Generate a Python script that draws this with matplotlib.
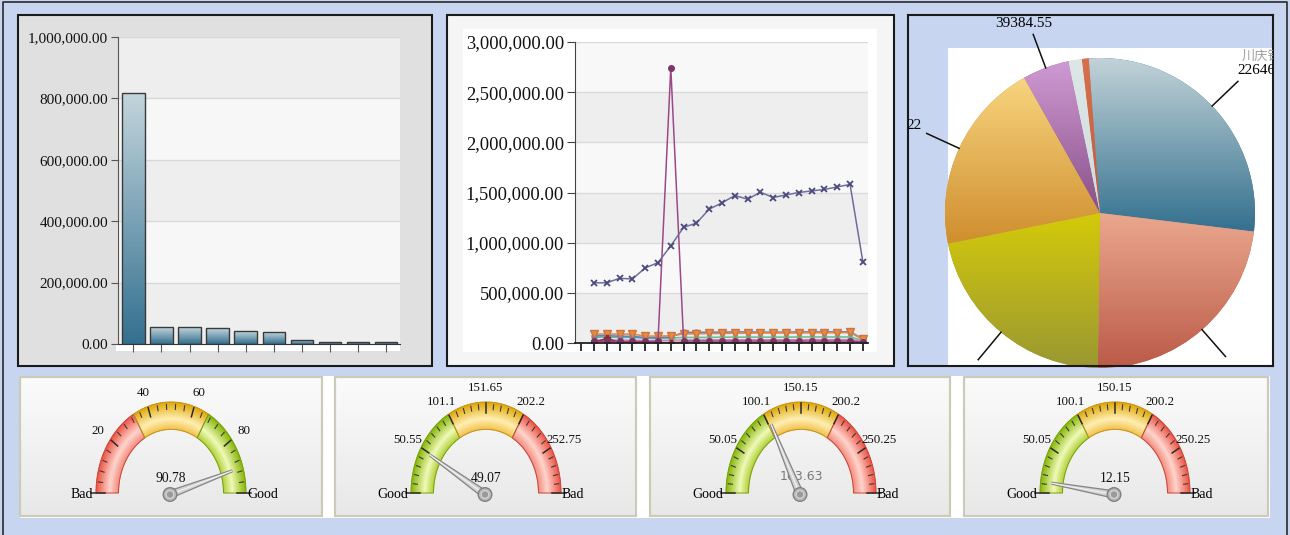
import numpy as np
import matplotlib
matplotlib.use('Agg')
import matplotlib.pyplot as plt
from matplotlib.patches import Rectangle, Polygon, Circle
from matplotlib.colors import to_rgb
from matplotlib.ticker import FuncFormatter

W, H = 1290, 535
SERIF = ['Liberation Serif', 'DejaVu Serif']
plt.rcParams['font.family'] = SERIF

# ---------------- data ----------------
bar_values = [817000, 55000, 55000, 52000, 41000, 38000, 14000, 6000, 6000, 6000]
bar_yticks = [0, 200000, 400000, 600000, 800000, 1000000]

line_x = list(range(22))
line_main = [600000, 600000, 645000, 638000, 748000, 801000, 968000, 1154000, 1194000, 1334000, 1397000,
             1470000, 1433000, 1503000, 1450000, 1476000, 1500000, 1516000, 1530000, 1556000, 1580000, 808000]
line_spike = [15000, 15000, 15000, 15000, 15000, 15000, 2745000, 20000, 20000, 20000, 20000,
              20000, 20000, 20000, 20000, 20000, 20000, 20000, 20000, 20000, 20000, 10000]
line_orange = [88000, 90000, 88000, 88000, 70000, 68000, 72000, 90000, 92000, 95000, 95000,
               98000, 98000, 100000, 100000, 100000, 100000, 102000, 102000, 102000, 105000, 35000]
line_blue = [70000, 72000, 68000, 65000, 55000, 52000, 60000, 105000, 105000, 108000, 108000,
             110000, 110000, 108000, 108000, 108000, 110000, 110000, 110000, 110000, 112000, 40000]
line_teal = [55000, 58000, 55000, 55000, 48000, 45000, 50000, 55000, 55000, 55000, 58000,
             58000, 58000, 58000, 58000, 58000, 60000, 60000, 60000, 60000, 60000, 25000]
line_pink = [30000, 30000, 28000, 28000, 25000, 25000, 28000, 30000, 30000, 32000, 32000,
             32000, 33000, 33000, 33000, 33000, 33000, 34000, 34000, 34000, 35000, 15000]
line_darkred = [5000, 45000, 5000, 5000, 4000, 4000, 4000, 5000, 5000, 5000, 5000,
                5000, 5000, 5000, 5000, 5000, 5000, 5000, 5000, 5000, 5000, 3000]
line_yticks = [0, 500000, 1000000, 1500000, 2000000, 2500000, 3000000]

pie_values = [226468, 188000, 174400, 161500, 39384.55, 11250, 5600]
pie_labels = ['22646', '', '', '22', '39384.55', '', '']
pie_category_hint = '川庆钻'

gauge_values = [90.78, 49.07, 103.63, 12.15]
gauge_max = [100, 303.3, 300.3, 300.3]
gauge_tick_values = [[20, 40, 60, 80],
                     [50.55, 101.1, 151.65, 202.2, 252.75],
                     [50.05, 100.1, 150.15, 200.2, 250.25],
                     [50.05, 100.1, 150.15, 200.2, 250.25]]
gauge_tick_labels = [['20', '40', '60', '80'],
                     ['50.55', '101.1', '151.65', '202.2', '252.75'],
                     ['50.05', '100.1', '150.15', '200.2', '250.25'],
                     ['50.05', '100.1', '150.15', '200.2', '250.25']]
gauge_value_labels = ['90.78', '49.07', '103.63', '12.15']
gauge_left = ['Bad', 'Good', 'Good', 'Good']
gauge_right = ['Good', 'Bad', 'Bad', 'Bad']

# ---------------- helpers ----------------
fig = plt.figure(figsize=(W / 100, H / 100), dpi=100)
fig.patch.set_facecolor('#c7d5f0')


def ax_at(x0, y0, x1, y1):
    return fig.add_axes([x0 / W, 1 - y1 / H, (x1 - x0) / W, (y1 - y0) / H])


def grad_img(c_top, c_bot, n=128):
    t = np.linspace(0, 1, n)[:, None, None]
    a = np.array(to_rgb(c_top))[None, None, :]
    b = np.array(to_rgb(c_bot))[None, None, :]
    return a * (1 - t) + b * t


def mix(c1, c2, t):
    a, b = np.array(to_rgb(c1)), np.array(to_rgb(c2))
    return tuple(a * (1 - t) + b * t)


bg = ax_at(0, 0, W, H)
bg.set_zorder(-10)
bg.axis('off')


def rect(ax, x0, y0, x1, y1, fc='none', ec='none', lw=0, z=1):
    ax.add_patch(Rectangle((x0, y0), x1 - x0, y1 - y0, facecolor=fc, edgecolor=ec, linewidth=lw, zorder=z))


# page frame
bg.plot([3, 3, 1287, 1287], [535, 2, 2, 535], color='#2a2a2a', lw=1.2, zorder=1)

# panel 1
rect(bg, 18, 15, 432, 366, fc='#e1e0e1', ec='#1a1a1a', lw=1.5)
rect(bg, 116, 344, 400, 351, fc='white', z=2)
# panel 2
rect(bg, 447, 15, 894, 366, fc='#f5f5f5', ec='#1a1a1a', lw=1.5)
rect(bg, 463, 29, 877, 352, fc='white', z=2)
# gauge strip
rect(bg, 20, 376, 1270, 518, fc='white')

# ---------------- bar chart ----------------
ax1 = ax_at(118, 37, 400, 344)
ax1.set_facecolor('#eeeeee')
for lo, hi in [(200000, 400000), (600000, 800000)]:
    ax1.axhspan(lo, hi, color='#f7f7f7', zorder=0.2, lw=0)
for t in bar_yticks[1:]:
    ax1.axhline(t, color='#d9d9d9', lw=1, zorder=0.4)
bars = ax1.bar(range(len(bar_values)), bar_values, width=0.8, color='none',
               edgecolor='#3a3a3a', linewidth=1, zorder=3)
for b in bars:
    x0, w, h = b.get_x(), b.get_width(), b.get_height()
    im = ax1.imshow(grad_img('#c3d5dc', '#33708f'), extent=(x0, x0 + w, 0, h), origin='upper',
                    aspect='auto', zorder=2.5, interpolation='bilinear')
    im.set_clip_path(b)
ax1.set_xlim(-0.545, 9.49)
ax1.set_ylim(0, 1000000)
ax1.set_yticks(bar_yticks)
ax1.yaxis.set_major_formatter(FuncFormatter(lambda v, p: f'{v:,.2f}'))
ax1.set_xticks(range(len(bar_values)))
ax1.set_xticklabels([])
ax1.tick_params(axis='y', length=5, color='#555555', labelsize=11, pad=2, labelcolor='#111111')
ax1.tick_params(axis='x', length=6, color='#555555')
for s in ['top', 'right']:
    ax1.spines[s].set_visible(False)
ax1.spines['left'].set_color('#555555')
ax1.spines['bottom'].set_color('#333333')

# ---------------- line chart ----------------
ax2 = ax_at(575, 42, 868, 343)
ax2.set_facecolor('#f8f8f8')
for lo, hi in [(0, 500000), (1000000, 1500000), (2000000, 2500000)]:
    ax2.axhspan(lo, hi, color='#eeeeee', zorder=0.2, lw=0)
for t in line_yticks[1:]:
    ax2.axhline(t, color='#dadada', lw=1, zorder=0.4)
ax2.plot(line_x, line_pink, color='#d67aa8', lw=1, marker='D', ms=2.5, zorder=2)
ax2.plot(line_x, line_teal, color='#6cbc9c', lw=1.2, marker='s', ms=3, zorder=2)
ax2.plot(line_x, line_blue, color='#5585c5', lw=1.2, marker='o', ms=3.5, zorder=2.1)
ax2.plot(line_x, line_orange, color='#e58a4c', lw=1.2, marker='v', ms=6, mec='#d07438', zorder=2.2)
ax2.plot(line_x, line_darkred, color='#8a2c2c', lw=1.2, marker='P', ms=5, zorder=2.3)
ax2.plot(line_x, line_spike, color='#9a4a86', lw=1.1, marker='o', ms=4, mfc='#7e3466', mec='#7e3466', zorder=2.4)
ax2.plot(line_x, line_main, color='#6e6e9e', lw=1.1, marker='x', ms=5, mew=1.3, mec='#4a4a7c', zorder=2.5)
ax2.set_xlim(-1.48, 21.4)
ax2.set_ylim(0, 3000000)
ax2.set_yticks(line_yticks)
ax2.yaxis.set_major_formatter(FuncFormatter(lambda v, p: f'{v:,.2f}'))
ax2.set_xticks(range(-1, 22))
ax2.set_xticklabels([])
ax2.tick_params(axis='y', length=6, color='#444444', labelsize=13.3, pad=2, labelcolor='#111111')
ax2.tick_params(axis='x', length=6, width=1.3, color='#222222')
for s in ['top', 'right']:
    ax2.spines[s].set_visible(False)
ax2.spines['left'].set_color('#444444')
ax2.spines['bottom'].set_color('#222222')
ax2.spines['bottom'].set_linewidth(1.3)

# ---------------- pie chart ----------------
X0, Y0, X1, Y1 = 908, 15, 1273, 366
ax3 = ax_at(X0, Y0, X1, Y1)
ax3.set_facecolor('#c7d5f0')
PY0, PY1 = H - Y1, H - Y0
ax3.add_patch(Rectangle((947.7, PY0), 1272 - 947.7, (H - 47.7) - PY0, facecolor='white', lw=0, zorder=0.5))
pie_grads = [('#c2d3d8', '#33708e'), ('#eaa88e', '#bb5a48'), ('#d4ca0a', '#9a9832'),
             ('#f7d47e', '#cf8e2e'), ('#cf9ad3', '#895088'), ('#dde7e7', '#cfdcdc'), ('#d8704c', '#c05a3c')]
PC = (1100, H - 213)
PR = 155
wedges, _ = ax3.pie(pie_values, colors=[g[1] for g in pie_grads], startangle=94.2, counterclock=False,
                    center=PC, radius=PR, frame=True, wedgeprops=dict(linewidth=0))
for w, (ct, cb) in zip(wedges, pie_grads):
    w.set_zorder(1)
    v = w.get_path().vertices
    x0, x1 = v[:, 0].min(), v[:, 0].max()
    y0, y1 = v[:, 1].min(), v[:, 1].max()
    im = ax3.imshow(grad_img(ct, cb), extent=(x0, x1, y0, y1), origin='upper', aspect='auto',
                    zorder=1.5, interpolation='bilinear')
    im.set_clip_path(w)
# leader lines + labels
for i, w in enumerate(wedges):
    if i > 4:
        continue
    mid = np.deg2rad((w.theta1 + w.theta2) / 2)
    ex, ey = PC[0] + PR * np.cos(mid), PC[1] + PR * np.sin(mid)
    lx, ly = PC[0] + 1.23 * PR * np.cos(mid), PC[1] + 1.23 * PR * np.sin(mid)
    ax3.plot([ex, lx], [ey, ly], color='#111111', lw=1.1, zorder=3, clip_on=True)
    lab = pie_labels[i]
    if not lab:
        continue
    if i == 0:
        ax3.text(lx - 1, ly + 11, lab, ha='left', va='center', fontsize=11, zorder=4, clip_on=True)
        ax3.text(lx + 4, ly + 25, pie_category_hint, ha='left', va='center', fontsize=9.5,
                 color='#a0a0a0', family=['Noto Sans CJK SC', 'DejaVu Sans'], zorder=4, clip_on=True)
    elif i == 3:
        ax3.text(lx - 5, ly + 8, lab, ha='right', va='center', fontsize=11, zorder=4, clip_on=True)
    elif i == 4:
        ax3.text(lx - 9, ly + 11, lab, ha='center', va='center', fontsize=11, zorder=4, clip_on=True)
ax3.set_aspect('auto')
ax3.set_xlim(X0, X1)
ax3.set_ylim(PY0, PY1)
ax3.set_xticks([])
ax3.set_yticks([])
for s in ax3.spines.values():
    s.set_color('#1a1a1a')
    s.set_linewidth(1.5)

# ---------------- gauges ----------------
RX, RY = 75, 91
S_IN = 0.70
BAND = {
    'red': ('#ec4f3f', '#ffd5cd', '#f48c7e', '#c8463a'),
    'yellow': ('#e0a600', '#ffefb4', '#f2c24c', '#c09020'),
    'green': ('#84b400', '#f0fab8', '#b2d23a', '#78a010'),
}
gauge_panels = [(20, 322), (335, 636), (650, 950), (964, 1268)]
gauge_cx = [171, 486, 801, 1115]
GCY = 493
GY0, GY1 = 377, 516


def gpt(cx, f, sx, sy=None):
    sy = sx if sy is None else sy
    th = np.pi * (1 - f)
    return cx + sx * RX * np.cos(th), GCY - sy * RY * np.sin(th)


def ring_poly(cx, f0, f1, sa, sb):
    fs = np.linspace(f0, f1, 50)
    outer = [gpt(cx, f, sa) for f in fs]
    inner = [gpt(cx, f, sb) for f in fs[::-1]]
    return outer + inner


for gi in range(4):
    px0, px1 = gauge_panels[gi]
    im = bg.imshow(grad_img('#fbfbfb', '#e8e8e8'), extent=(px0, px1, GY1, GY0), origin='upper',
                   aspect='auto', zorder=1.2, interpolation='bilinear')
    rect(bg, px0, GY0, px1, GY1, ec='#cbcbb8', lw=1.6, z=1.3)
    cx = gauge_cx[gi]
    vmax = gauge_max[gi]
    order = ['red', 'yellow', 'green'] if gi == 0 else ['green', 'yellow', 'red']
    for bi, name in enumerate(order):
        f0, f1 = bi / 3, (bi + 1) / 3
        sat, light, inner, edge = BAND[name]
        N = 14
        ss = np.linspace(1.0, S_IN, N + 1)
        for k in range(N):
            u = (k + 0.5) / N
            col = mix(sat, light, u / 0.62) if u < 0.62 else mix(light, inner, (u - 0.62) / 0.38)
            bg.add_patch(Polygon(ring_poly(cx, f0, f1, ss[k], ss[k + 1] - 0.004), closed=True,
                                 facecolor=col, edgecolor=col, lw=0.3, zorder=2))
        bg.add_patch(Polygon(ring_poly(cx, f0, f1, 1.0, S_IN), closed=True, facecolor='none',
                             edgecolor=edge, lw=0.7, zorder=2.2))
    # ticks
    majors = [0] + gauge_tick_values[gi] + [vmax]
    for a, b in zip(majors[:-1], majors[1:]):
        for m in range(1, 5):
            f = (a + (b - a) * m / 5) / vmax
            p0, p1 = gpt(cx, f, 0.975), gpt(cx, f, 0.92)
            bg.plot([p0[0], p1[0]], [p0[1], p1[1]], color='#3a3a3a', lw=0.8, zorder=2.5)
    for v in majors:
        f = v / vmax
        s0 = 1.07 if v in (0, vmax) else 0.985
        p0, p1 = gpt(cx, f, s0), gpt(cx, f, 0.88)
        bg.plot([p0[0], p1[0]], [p0[1], p1[1]], color='#2a2a2a', lw=1.1, zorder=2.5)
    # tick labels
    for v, lab in zip(gauge_tick_values[gi], gauge_tick_labels[gi]):
        lx, ly = gpt(cx, v / vmax, 1.2, 1.155)
        bg.text(lx, ly, lab, ha='center', va='center', fontsize=9.3, color='#111111', zorder=3)
    bg.text(cx - RX - 3, GCY + 1, gauge_left[gi], ha='right', va='center', fontsize=10, zorder=3)
    bg.text(cx + RX + 1, GCY + 2, gauge_right[gi], ha='left', va='center', fontsize=10, zorder=3)
    # value text
    if gi == 2:
        bg.text(cx, GCY - 16, gauge_value_labels[gi], ha='center', va='center', fontsize=9,
                color='#7a7a7a', family=['DejaVu Sans'], zorder=3)
    else:
        bg.text(cx, GCY - 14, gauge_value_labels[gi], ha='center', va='center', fontsize=9.8,
                color='#111111', zorder=3)
    # needle
    P = np.array([cx - 1, GCY + 1.5])
    tip = np.array(gpt(cx, gauge_values[gi] / vmax, 0.85))
    d = tip - P
    d = d / np.hypot(*d)
    n = np.array([-d[1], d[0]])
    needle = [P + n * 3.8 - d * 3, tip + n * 0.9, tip - n * 0.9, P - n * 3.8 - d * 3]
    bg.add_patch(Polygon(needle, closed=True, facecolor='#d2d2d2', edgecolor='#858585', lw=0.9, zorder=4))
    bg.plot([P[0], tip[0]], [P[1], tip[1]], color='#f4f4f4', lw=0.8, zorder=4.1)
    bg.add_patch(Circle(P, 6.8, facecolor='#b8b8b8', edgecolor='#808080', lw=1, zorder=4.2))
    bg.add_patch(Circle(P, 3.8, facecolor='#9a9a9a', edgecolor='#d8d8d8', lw=0.8, zorder=4.3))

bg.set_xlim(0, W)
bg.set_ylim(H, 0)

fig.savefig('out.png', dpi=100, facecolor=fig.get_facecolor())
